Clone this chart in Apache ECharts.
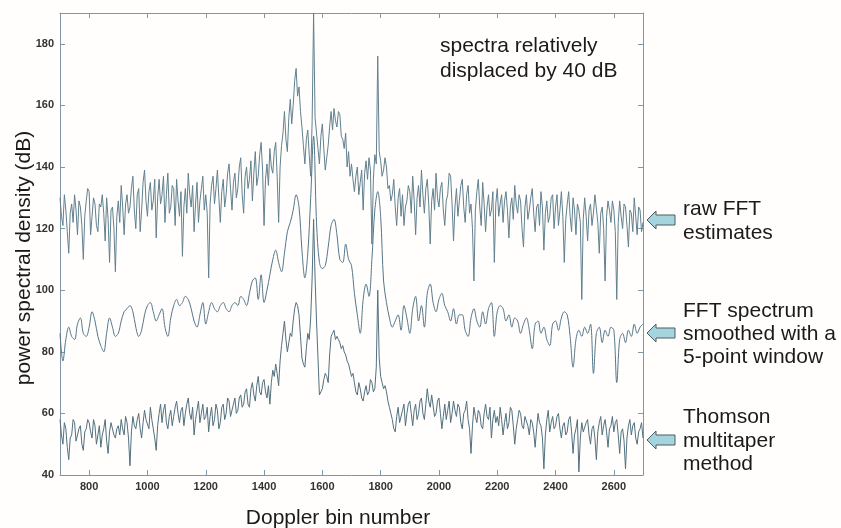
<!DOCTYPE html>
<html>
<head>
<meta charset="utf-8">
<script src="https://cdn.jsdelivr.net/npm/echarts@6/dist/echarts.min.js"></script>
<style>
  html, body { margin: 0; background: #fffefc; }
  #chart { width: 841px; height: 528px; }
</style>
</head>
<body>
<div id="chart"></div>
<script>
// all spectra start at Doppler bin 700; raw and multitaper are read every 5 bins,
// the smoothed spectrum every 10 bins
var BIN_START = 700
var NOISY_STEP = 5
var SMOOTH_STEP = 10

var X_TICKS = [800, 1000, 1200, 1400, 1600, 1800, 2000, 2200, 2400, 2600]
var Y_TICKS = [40, 60, 80, 100, 120, 140, 160, 180]

// raw FFT estimates (dB), one row per 100 bins
var rawFFT = [
  130, 124, 121, 131, 126, 119, 112, 125, 128, 122, 131, 126, 118, 129, 127, 121, 110, 124, 129, 133,
  132, 118, 124, 130, 128, 121, 119, 128, 127, 131, 125, 116, 130, 123, 109, 126, 127, 120, 106, 124,
  129, 122, 134, 127, 118, 128, 131, 125, 127, 133, 137, 126, 120, 131, 133, 119, 126, 135, 139, 129,
  124, 132, 135, 126, 129, 136, 117, 130, 136, 128, 131, 137, 122, 131, 138, 125, 127, 134, 133, 121,
  136, 129, 124, 132, 111, 127, 133, 125, 138, 131, 127, 134, 119, 128, 135, 122, 129, 133, 137, 126,
  131, 125, 104, 128, 134, 137, 128, 133, 139, 130, 122, 132, 136, 127, 131, 138, 141, 133, 126, 135,
  138, 130, 133, 140, 143, 131, 125, 137, 140, 133, 136, 142, 129, 138, 145, 134, 137, 144, 148, 139,
  121, 136, 141, 134, 146, 140, 138, 145, 148, 137, 122, 140, 147, 151, 158, 149, 145, 156, 162, 154,
  160, 168, 172, 163, 166, 158, 153, 147, 141, 149, 152, 144, 137, 155, 190, 156, 151, 146, 141, 150,
  154, 146, 139, 143, 147, 153, 158, 152, 159, 155, 153, 158, 157, 150, 149, 146, 151, 140, 145, 137,
  141, 136, 132, 137, 140, 131, 135, 139, 126, 138, 142, 136, 143, 139, 115, 136, 144, 141, 176, 145,
  142, 137, 139, 143, 140, 133, 134, 129, 131, 136, 127, 121, 130, 133, 124, 131, 121, 127, 129, 134,
  132, 125, 137, 129, 118, 130, 134, 127, 139, 131, 125, 133, 136, 128, 115, 129, 133, 126, 138, 130,
  127, 133, 135, 126, 121, 129, 131, 138, 137, 128, 116, 127, 133, 124, 129, 134, 136, 127, 122, 131,
  134, 125, 128, 120, 103, 126, 132, 136, 127, 121, 135, 128, 119, 127, 131, 124, 126, 132, 109, 128,
  133, 124, 128, 131, 122, 129, 132, 126, 117, 127, 130, 123, 134, 128, 125, 131, 129, 120, 114, 127,
  131, 123, 126, 130, 133, 125, 119, 127, 128, 121, 132, 127, 113, 125, 129, 122, 124, 130, 131, 120,
  127, 131, 121, 126, 132, 124, 109, 123, 128, 132, 124, 119, 130, 126, 118, 128, 126, 122, 97, 123,
  130, 124, 116, 126, 128, 121, 125, 131, 131, 122, 112, 125, 127, 120, 103, 124, 129, 126, 122, 129,
  126, 119, 97, 122, 129, 124, 120, 128, 127, 121, 114, 126, 125, 119, 130, 124, 118, 127, 126, 119, 122
]

// FFT spectrum smoothed with a 5-point window (dB), one row per 100 bins
var smoothedFFT = [
  86, 77, 84, 88, 85, 84, 89, 91, 86, 85,
  88, 93, 90, 85, 82, 80, 86, 91, 88, 85,
  86, 90, 93, 94, 95, 93, 88, 85, 87, 92,
  95, 96, 93, 90, 92, 94, 88, 85, 91, 95,
  97, 95, 96, 98, 97, 94, 90, 88, 92, 96,
  89, 93, 96, 94, 93, 95, 96, 94, 93, 95,
  96, 95, 98, 97, 95, 99, 103, 104, 97, 105,
  96, 100, 105, 110, 113, 109, 106, 112, 119, 122,
  126, 131, 127, 113, 104, 112, 130, 150, 122, 109,
  107, 108, 114, 121, 123, 118, 110, 109, 115, 110,
  108, 99, 92, 86, 97, 102, 98, 110, 126, 132,
  124, 103, 96, 91, 88, 90, 92, 87, 95, 91,
  86, 94, 98, 90, 95, 88, 99, 102, 96, 93,
  97, 99, 95, 93, 90, 94, 89, 92, 92, 87,
  85, 91, 94, 90, 88, 93, 89, 94, 96, 85,
  93, 95, 94, 90, 92, 88, 91, 90, 86, 89,
  91, 87, 81, 89, 90, 86, 88, 84, 82, 89,
  90, 87, 91, 93, 92, 85, 75, 84, 87, 85,
  88, 86, 89, 73, 86, 88, 83, 87, 85, 88,
  87, 70, 84, 86, 83, 87, 85, 89, 86, 88, 89
]

// Thomson multitaper method (dB), one row per 100 bins
var thomsonMT = [
  58, 53, 50, 57, 55, 49, 45, 52, 53, 58, 57, 51, 51, 55, 56, 50, 48, 54, 55, 58,
  57, 54, 52, 58, 56, 50, 53, 56, 49, 53, 55, 58, 51, 47, 54, 57, 57, 53, 52, 55,
  56, 53, 58, 55, 53, 59, 57, 52, 43, 54, 59, 56, 55, 58, 60, 55, 52, 57, 61, 58,
  58, 55, 62, 58, 55, 52, 48, 56, 60, 63, 57, 61, 63, 57, 55, 59, 61, 56, 59, 62,
  64, 60, 57, 61, 62, 56, 60, 63, 65, 60, 58, 62, 53, 58, 61, 64, 57, 60, 63, 58,
  59, 62, 54, 59, 62, 56, 58, 63, 61, 55, 57, 62, 63, 58, 60, 65, 64, 59, 59, 63,
  65, 60, 61, 65, 66, 62, 63, 67, 68, 63, 62, 68, 70, 66, 64, 69, 72, 67, 66, 70,
  71, 67, 65, 69, 63, 70, 74, 72, 76, 73, 69, 77, 82, 86, 90, 84, 80, 83, 86, 85,
  90, 94, 96, 95, 92, 85, 78, 76, 75, 81, 86, 84, 91, 104, 123, 104, 90, 78, 66, 67,
  68, 71, 73, 72, 70, 79, 85, 86, 87, 84, 85, 84, 83, 81, 82, 80, 79, 77, 76, 74,
  72, 73, 70, 67, 66, 70, 68, 65, 64, 67, 69, 66, 67, 71, 70, 67, 68, 75, 100, 78,
  72, 70, 68, 69, 67, 64, 62, 60, 58, 55, 54, 59, 62, 57, 57, 61, 63, 56, 60, 63,
  64, 60, 56, 61, 63, 58, 60, 64, 65, 60, 58, 63, 68, 64, 62, 66, 66, 59, 60, 64,
  65, 60, 55, 59, 63, 58, 61, 64, 57, 60, 64, 61, 59, 63, 62, 57, 55, 60, 61, 64,
  58, 55, 47, 56, 62, 59, 57, 61, 60, 56, 55, 60, 63, 59, 58, 62, 52, 58, 61, 57,
  59, 56, 62, 58, 53, 57, 60, 55, 57, 62, 61, 56, 50, 55, 58, 61, 60, 56, 55, 59,
  59, 56, 53, 58, 57, 54, 49, 55, 60, 57, 56, 52, 42, 53, 58, 61, 54, 57, 59, 55,
  56, 59, 60, 55, 52, 56, 57, 53, 54, 58, 59, 54, 47, 53, 55, 58, 41, 52, 57, 54,
  54, 57, 58, 53, 50, 55, 56, 52, 45, 54, 57, 59, 53, 56, 58, 54, 49, 55, 56, 59,
  54, 57, 58, 53, 47, 54, 55, 51, 42, 52, 56, 58, 53, 56, 57, 52, 50, 54, 55, 57, 52
]

var FONT = '"Liberation Sans", Arial, sans-serif'
var AXIS_COLOR = '#7f97a6'
var TEXT_COLOR = '#1a1a1a'

var toPairs = function (values, step) {
  return values.map(function (v, i) {
    return [BIN_START + i * step, v]
  })
}

var lineSeries = function (name, values, step, color, smooth) {
  return {
    name: name,
    type: 'line',
    data: toPairs(values, step),
    symbol: 'none',
    silent: true,
    smooth: smooth || false,
    lineStyle: { width: 1, color: color }
  }
}

var buildAxis = function (min, max, ticks, position, showLabels) {
  return {
    type: 'value',
    min: min,
    max: max,
    position: position,
    axisLine: { show: true, onZero: false, lineStyle: { color: AXIS_COLOR, width: 1 } },
    axisTick: { show: true, inside: true, length: 5, customValues: ticks, lineStyle: { color: AXIS_COLOR } },
    axisLabel: {
      show: showLabels,
      customValues: ticks,
      formatter: function (v) { return String(v) },
      color: '#333',
      fontSize: 11,
      fontWeight: 'bold',
      fontFamily: FONT,
      margin: 6
    },
    splitLine: { show: false }
  }
}

var textBlock = function (text, x, y, lineHeight, align) {
  return {
    type: 'text',
    x: x,
    y: y,
    silent: true,
    style: {
      text: text,
      fill: TEXT_COLOR,
      fontSize: 21,
      fontFamily: FONT,
      lineHeight: lineHeight,
      align: align || 'left',
      verticalAlign: 'middle'
    }
  }
}

var arrow = function (y) {
  return {
    type: 'polygon',
    x: 647,
    y: y,
    silent: true,
    shape: {
      points: [[0, 0], [9, -9], [9, -5], [28, -5], [28, 5], [9, 5], [9, 9]]
    },
    style: { fill: '#a4d5de', stroke: '#4f5d63', lineWidth: 1 }
  }
}

var chart = echarts.init(document.getElementById('chart'))

chart.setOption({
  backgroundColor: '#fffefc',
  animation: false,
  grid: { left: 60, right: 198, top: 13, bottom: 53 },
  xAxis: [
    buildAxis(700, 2700, X_TICKS, 'bottom', true),
    buildAxis(700, 2700, X_TICKS, 'top', false)
  ],
  yAxis: [
    buildAxis(40, 190, Y_TICKS, 'left', true),
    buildAxis(40, 190, Y_TICKS, 'right', false)
  ],
  series: [
    lineSeries('raw FFT estimates', rawFFT, NOISY_STEP, '#61808f'),
    lineSeries('FFT spectrum smoothed with a 5-point window', smoothedFFT, SMOOTH_STEP, '#56768a', 0.35),
    lineSeries('Thomson multitaper method', thomsonMT, NOISY_STEP, '#52707f')
  ],
  graphic: [
    {
      type: 'text',
      x: 24,
      y: 258,
      rotation: Math.PI / 2,
      silent: true,
      style: {
        text: 'power spectral density (dB)',
        fill: TEXT_COLOR,
        fontSize: 21,
        fontFamily: FONT,
        align: 'center',
        verticalAlign: 'middle'
      }
    },
    textBlock('Doppler bin number', 338, 518, 21, 'center'),
    textBlock('spectra relatively\ndisplaced by 40 dB', 440, 59, 25),
    textBlock('raw FFT\nestimates', 683, 221, 24),
    textBlock('FFT spectrum\nsmoothed with a\n5-point window', 683, 334, 23),
    textBlock('Thomson\nmultitaper\nmethod', 683, 441, 23.5),
    arrow(220),
    arrow(333),
    arrow(440)
  ]
})
</script>
</body>
</html>
